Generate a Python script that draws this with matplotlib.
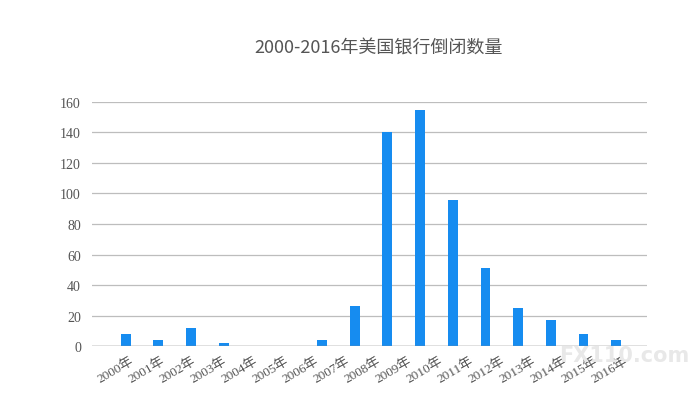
import matplotlib
matplotlib.use("Agg")
import matplotlib.pyplot as plt
import numpy as np

years = [f"{y}年" for y in range(2000, 2017)]
failures = [8, 4, 12, 2, 0, 0, 4, 26, 140, 155, 96, 51, 25, 17, 8, 4, 0]
y_ticks = list(range(0, 161, 20))

title = "2000-2016年美国银行倒闭数量"

fig = plt.figure(figsize=(6.99, 4.02), dpi=100)
ax = fig.add_axes([0.1316, 0.1368, 0.7940, 0.6070])

x = np.arange(len(years))
ax.bar(x, failures, width=0.3, color="#168cf0", zorder=3)

ax.set_xlim(-1.03, 15.94)
ax.set_ylim(0, 160)
ax.set_yticks(y_ticks)
ax.grid(axis="y", color="#bdbdbd", linewidth=0.9, zorder=0)
ax.axhline(0, color="#8a8a8a", linewidth=1.0, zorder=4)

for s in ax.spines.values():
    s.set_visible(False)
ax.tick_params(axis="both", length=0)
ax.tick_params(axis="y", pad=8, labelsize=10, labelcolor="#555555")
for lbl in ax.get_yticklabels():
    lbl.set_family("Liberation Serif")

# year labels spread evenly under the plot
tick_pos = np.linspace(0.12, 15.24, len(years))
ax.set_xticks(tick_pos)
ax.set_xticklabels(years, rotation=30, ha="right", rotation_mode="anchor",
                   fontsize=9.5, color="#555555",
                   family=["Liberation Serif", "Noto Sans CJK SC"])
ax.tick_params(axis="x", pad=6)

fig.text(0.541, 0.88, title, ha="center", va="center", fontsize=13,
         color="#555555", family=["Noto Sans CJK SC", "DejaVu Sans"])

# faint watermark
fig.text(0.80, 0.115, "FX110.com", fontsize=15, color="#e8e8e8",
         fontweight="bold", ha="left", va="center", zorder=0)

fig.savefig("out.png", dpi=100)
plt.close(fig)
